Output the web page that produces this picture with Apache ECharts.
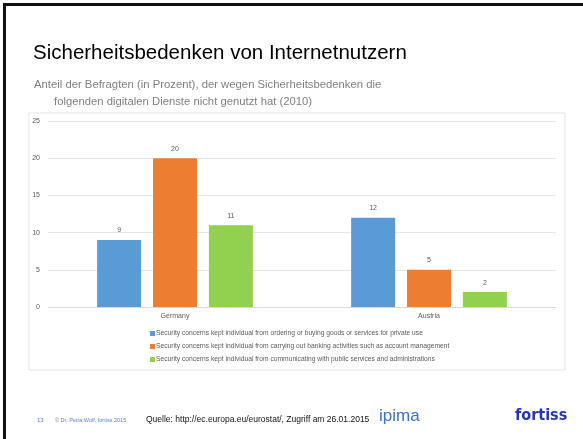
<!DOCTYPE html>
<html>
<head>
<meta charset="utf-8">
<script src="https://cdn.jsdelivr.net/npm/echarts@6/dist/echarts.min.js"></script>
<style>
  html, body { margin: 0; padding: 0; background: #fff; }
  #chart { width: 583px; height: 439px; }
</style>
</head>
<body>
<div id="chart"></div>
<script>
// Daten (Prozent, 2010)
var countries = ['Germany', 'Austria'];
var seriesNames = [
  'Security concerns kept individual from ordering or buying goods or services for private use',
  'Security concerns kept individual from carrying out banking activities such as account management',
  'Security concerns kept individual from communicating with public services and administrations'
];
var ordering = [9, 12];
var banking = [20, 5];
var publicServices = [11, 2];
var yTicks = [0, 5, 10, 15, 20, 25];

var colors = ['#5B9BD5', '#ED7D31', '#92D050'];

var myChart = echarts.init(document.getElementById('chart'));

function barSeries(name, data, color) {
  return {
    name: name,
    type: 'bar',
    data: data,
    barWidth: 44,
    barGap: '27%',
    itemStyle: { color: color },
    label: {
      show: true,
      position: 'top',
      distance: 6,
      fontSize: 7,
      color: '#595959',
      fontFamily: 'Liberation Sans'
    }
  };
}

var option = {
  animation: false,
  backgroundColor: '#fff',
  color: colors,
  graphic: [
    // Folienrahmen
    { type: 'rect', shape: { x: 3, y: 3, width: 590, height: 3 }, style: { fill: '#111' } },
    { type: 'rect', shape: { x: 3, y: 3, width: 3, height: 440 }, style: { fill: '#111' } },
    // Diagrammrahmen
    { type: 'rect', shape: { x: 29, y: 113, width: 536, height: 257 }, style: { fill: 'none', stroke: '#e3e3e3', lineWidth: 1 } },
    { type: 'text', left: 33, top: 43, style: { text: 'Sicherheitsbedenken von Internetnutzern', fontSize: 20.5, fill: '#000', fontFamily: 'Liberation Sans' } },
    { type: 'text', left: 34, top: 79, style: { text: 'Anteil der Befragten (in Prozent), der wegen Sicherheitsbedenken die', fontSize: 11.3, fill: '#7f7f7f', fontFamily: 'Liberation Sans' } },
    { type: 'text', left: 54, top: 96, style: { text: 'folgenden digitalen Dienste nicht genutzt hat (2010)', fontSize: 11.3, fill: '#7f7f7f', fontFamily: 'Liberation Sans' } },
    // Fußzeile
    { type: 'text', left: 37, top: 417, style: { text: '13', fontSize: 6, fill: '#5a7fe6', fontFamily: 'Liberation Sans' } },
    { type: 'text', left: 55, top: 417, style: { text: '© Dr. Petra Wolf, fortiss 2015', fontSize: 5.5, fill: '#5a7fe6', fontFamily: 'Liberation Sans' } },
    { type: 'text', left: 146, top: 415, style: { text: 'Quelle: http://ec.europa.eu/eurostat/, Zugriff am 26.01.2015', fontSize: 8.5, fill: '#111', fontFamily: 'Liberation Sans' } },
    { type: 'text', left: 379, top: 408, style: { text: 'ipima', fontSize: 17, fill: '#3b6fd6', fontFamily: 'Liberation Sans' } },
    { type: 'text', left: 515, top: 408, style: { text: 'fortiss', fontSize: 16, fontWeight: 'bold', fill: '#2436b8', fontFamily: 'DejaVu Sans Condensed' } }
  ],
  legend: {
    orient: 'vertical',
    left: 145,
    top: 325,
    icon: 'rect',
    itemWidth: 5,
    itemHeight: 5,
    itemGap: 6,
    textStyle: { fontSize: 6.7, color: '#595959', padding: [0, 0, 0, -4], fontFamily: 'Liberation Sans' },
    data: seriesNames
  },
  grid: { left: 48, right: 27, top: 121, bottom: 132 },
  xAxis: {
    type: 'category',
    data: countries,
    axisLine: { lineStyle: { color: '#d9d9d9' } },
    axisTick: { show: false },
    axisLabel: { fontSize: 7, color: '#595959', margin: 6, fontFamily: 'Liberation Sans' }
  },
  yAxis: {
    type: 'value',
    min: yTicks[0],
    max: yTicks[yTicks.length - 1],
    interval: 5,
    axisLine: { show: false },
    axisTick: { show: false },
    splitLine: { lineStyle: { color: '#e6e6e6' } },
    axisLabel: { fontSize: 7, color: '#595959', margin: 8, fontFamily: 'Liberation Sans' }
  },
  series: [
    barSeries(seriesNames[0], ordering, colors[0]),
    barSeries(seriesNames[1], banking, colors[1]),
    barSeries(seriesNames[2], publicServices, colors[2])
  ]
};

myChart.setOption(option);
</script>
</body>
</html>
